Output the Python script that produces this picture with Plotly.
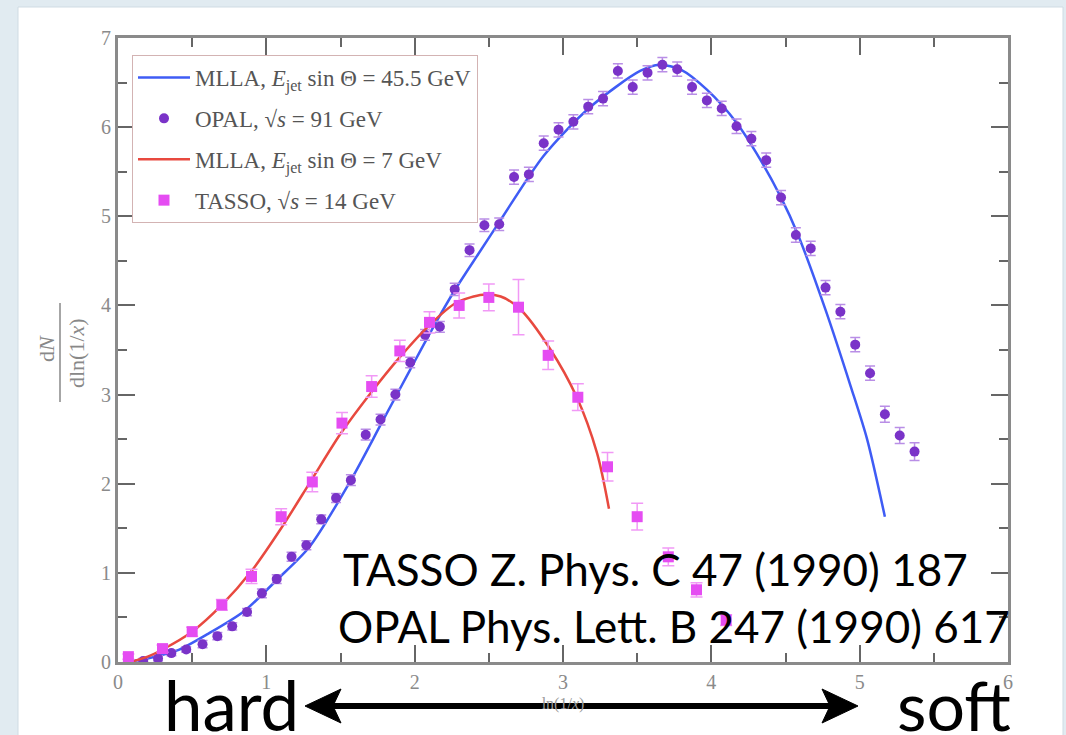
import plotly.graph_objects as go

# ---------------- data ----------------
mlla45_x = [0.05, 0.2, 0.4, 0.6, 0.85, 1.07, 1.29, 1.57, 1.78, 1.97, 2.12, 2.27, 2.43, 2.58, 2.87,
            3.18, 3.52, 3.65, 3.80, 3.97, 4.17, 4.30, 4.47, 4.58, 4.77, 4.94, 5.05, 5.17]
mlla45_y = [0.0, 0.04, 0.13, 0.31, 0.57, 0.92, 1.29, 2.04, 2.69, 3.28, 3.74, 4.17, 4.58, 4.96, 5.68,
            6.22, 6.63, 6.70, 6.64, 6.42, 6.05, 5.72, 5.21, 4.81, 3.95, 3.09, 2.50, 1.63]

opal_x = [0.07, 0.17, 0.27, 0.36, 0.46, 0.57, 0.67, 0.77, 0.87, 0.97, 1.07, 1.17, 1.27, 1.37, 1.47,
          1.57, 1.67, 1.77, 1.87, 1.97, 2.07, 2.17, 2.27, 2.37, 2.47, 2.57, 2.67, 2.77, 2.87, 2.97,
          3.07, 3.17, 3.27, 3.37, 3.47, 3.57, 3.67, 3.77, 3.87, 3.97, 4.07, 4.17, 4.27, 4.37, 4.47,
          4.57, 4.67, 4.77, 4.87, 4.97, 5.07, 5.17, 5.27, 5.37]
opal_y = [0.00, 0.01, 0.04, 0.10, 0.14, 0.20, 0.29, 0.40, 0.56, 0.77, 0.93, 1.18, 1.31, 1.60, 1.84,
          2.04, 2.55, 2.72, 3.00, 3.36, 3.67, 3.76, 4.18, 4.62, 4.90, 4.91, 5.44, 5.47, 5.82, 5.97,
          6.06, 6.23, 6.32, 6.63, 6.45, 6.61, 6.70, 6.65, 6.45, 6.30, 6.21, 6.01, 5.87, 5.63, 5.21,
          4.79, 4.64, 4.20, 3.93, 3.56, 3.24, 2.78, 2.54, 2.36]
opal_err = [0.03, 0.03, 0.03, 0.03, 0.03, 0.04, 0.04, 0.04, 0.04, 0.05, 0.05, 0.05, 0.05, 0.05, 0.05,
            0.06, 0.06, 0.06, 0.06, 0.06, 0.06, 0.06, 0.07, 0.07, 0.07, 0.07, 0.08, 0.08, 0.08, 0.08,
            0.08, 0.08, 0.08, 0.08, 0.08, 0.08, 0.08, 0.08, 0.08, 0.08, 0.08, 0.08, 0.08, 0.08, 0.08,
            0.08, 0.08, 0.08, 0.08, 0.08, 0.08, 0.09, 0.09, 0.10]

mlla7_x = [0.08, 0.2, 0.3, 0.50, 0.70, 0.90, 1.10, 1.30, 1.50, 1.70, 1.90, 2.10, 2.28, 2.46, 2.58,
           2.71, 2.91, 3.09, 3.23, 3.31]
mlla7_y = [0.0, 0.06, 0.14, 0.34, 0.64, 1.02, 1.50, 2.03, 2.56, 3.01, 3.42, 3.78, 4.03, 4.12, 4.10,
           3.96, 3.52, 2.98, 2.34, 1.72]

tasso_x = [0.07, 0.30, 0.50, 0.70, 0.90, 1.10, 1.31, 1.51, 1.71, 1.90, 2.10, 2.30, 2.50, 2.70, 2.90,
           3.10, 3.30, 3.50, 3.71, 3.90, 4.10]
tasso_y = [0.06, 0.15, 0.34, 0.64, 0.96, 1.63, 2.02, 2.68, 3.09, 3.49, 3.81, 4.00, 4.09, 3.98, 3.44,
           2.97, 2.19, 1.63, 1.18, 0.81, 0.47]
tasso_err = [0.03, 0.04, 0.05, 0.06, 0.08, 0.09, 0.11, 0.12, 0.12, 0.12, 0.12, 0.14, 0.15, 0.31, 0.16,
             0.15, 0.16, 0.15, 0.10, 0.08, 0.06]

x_ticks = [0, 1, 2, 3, 4, 5, 6]
y_ticks = [0, 1, 2, 3, 4, 5, 6, 7]

# ---------------- geometry helpers (plot area pixels) ----------------
L, R, T, B = 118, 1008, 38, 662
W, H = R - L, B - T


def px(x):
    return (x - L) / W


def py(y):
    return (B - y) / H


BLUE = "#3f5cf5"
RED = "#e8493f"
PURPLE = "#7a33c8"
MAGENTA = "#e54cf2"
SERIF = "Liberation Serif"

fig = go.Figure()
fig.add_trace(go.Scatter(
    x=mlla45_x, y=mlla45_y, mode="lines", legendgroup="a",
    line=dict(color=BLUE, width=2.5, shape="spline", smoothing=0.8),
    name="MLLA, <i>E</i><sub>jet</sub> sin Θ = 45.5 GeV"))
fig.add_trace(go.Scatter(
    x=opal_x, y=opal_y, mode="markers", legendgroup="b",
    marker=dict(color=PURPLE, size=10, symbol="circle"),
    error_y=dict(type="data", array=opal_err, color="#b98ee6", thickness=1.5, width=5),
    name="OPAL, √<i>s</i> = 91 GeV"))
fig.add_trace(go.Scatter(
    x=mlla7_x, y=mlla7_y, mode="lines", legendgroup="c",
    line=dict(color=RED, width=2.5, shape="spline", smoothing=0.8),
    name="MLLA, <i>E</i><sub>jet</sub> sin Θ = 7 GeV"))
fig.add_trace(go.Scatter(
    x=tasso_x, y=tasso_y, mode="markers", legendgroup="d",
    marker=dict(color=MAGENTA, size=11, symbol="square"),
    error_y=dict(type="data", array=tasso_err, color="#f199f6", thickness=1.5, width=6),
    name="TASSO, √<i>s</i> = 14 GeV"))

axis_common = dict(
    ticks="inside", ticklen=17, tickwidth=2, tickcolor="#666",
    showline=True, linecolor="#8a8a8a", linewidth=3, mirror="allticks",
    showgrid=False, zeroline=False,
    tickfont=dict(family=SERIF, size=20, color="#8a8a8a"),
    minor=dict(ticks="inside", ticklen=9, tickwidth=2, tickcolor="#666", dtick=0.5),
)

fig.update_layout(
    width=1066, height=735,
    margin=dict(l=L, r=1066 - R, t=T, b=735 - B),
    paper_bgcolor="#e1ebf1",
    plot_bgcolor="white",
    xaxis=dict(range=[0, 6], tickvals=x_ticks, ticktext=[str(v) for v in x_ticks],
               title=dict(text="ln(1/<i>x</i>)", font=dict(family=SERIF, size=16, color="#999"),
                          standoff=6),
               **axis_common),
    yaxis=dict(range=[0, 7], tickvals=y_ticks, ticktext=[str(v) for v in y_ticks],
               **axis_common),
    legend=dict(x=px(132), y=py(55), xanchor="left", yanchor="top",
                bgcolor="white", bordercolor="#d3b3b3", borderwidth=1,
                font=dict(family=SERIF, size=23, color="#555"),
                tracegroupgap=8, itemwidth=52),
    showlegend=True,
)

# white slide panel
fig.add_shape(type="rect", xref="paper", yref="paper", layer="below",
              x0=px(18), x1=px(1063), y0=py(7), y1=py(740),
              fillcolor="white", line=dict(color="#cfdbe3", width=1))

# y axis title as a fraction
fig.add_annotation(xref="paper", yref="paper", x=px(46), y=py(349), text="d<i>N</i>",
                   textangle=-90, showarrow=False, xanchor="center", yanchor="middle",
                   font=dict(family=SERIF, size=22, color="#888"))
fig.add_annotation(xref="paper", yref="paper", x=px(76), y=py(353), text="dln(1/<i>x</i>)",
                   textangle=-90, showarrow=False, xanchor="center", yanchor="middle",
                   font=dict(family=SERIF, size=22, color="#888"))
fig.add_shape(type="line", xref="paper", yref="paper", x0=px(60), x1=px(60),
              y0=py(303), y1=py(402), line=dict(color="#888", width=1.5))

# references
fig.add_annotation(xref="paper", yref="paper", x=px(341), y=py(569), xanchor="left",
                   yanchor="middle", showarrow=False,
                   text="TASSO Z. Phys. C 47 (1990) 187",
                   font=dict(family="Lato", size=44, color="black"))
fig.add_annotation(xref="paper", yref="paper", x=px(336), y=py(626), xanchor="left",
                   yanchor="middle", showarrow=False,
                   text="OPAL Phys. Lett. B 247 (1990) 617",
                   font=dict(family="Lato", size=44, color="black"))

# hard / soft
fig.add_annotation(xref="paper", yref="paper", x=px(162), y=py(704), xanchor="left",
                   yanchor="middle", showarrow=False, text="hard",
                   font=dict(family="Lato", size=69, color="black"))
fig.add_annotation(xref="paper", yref="paper", x=px(895), y=py(704), xanchor="left",
                   yanchor="middle", showarrow=False, text="soft",
                   font=dict(family="Lato", size=68, color="black"))

# double arrow
ay = 706
fig.add_shape(type="line", xref="paper", yref="paper", x0=px(330), x1=px(834),
              y0=py(ay), y1=py(ay), line=dict(color="black", width=6))


def head(tip, back, notch):
    return (f"M {px(tip)} {py(ay)} L {px(back)} {py(ay - 17)} L {px(notch)} {py(ay)} "
            f"L {px(back)} {py(ay + 17)} Z")


fig.add_shape(type="path", xref="paper", yref="paper", path=head(305, 341, 333),
              fillcolor="black", line=dict(color="black", width=1))
fig.add_shape(type="path", xref="paper", yref="paper", path=head(858, 822, 830),
              fillcolor="black", line=dict(color="black", width=1))

fig.write_html("out.html")
